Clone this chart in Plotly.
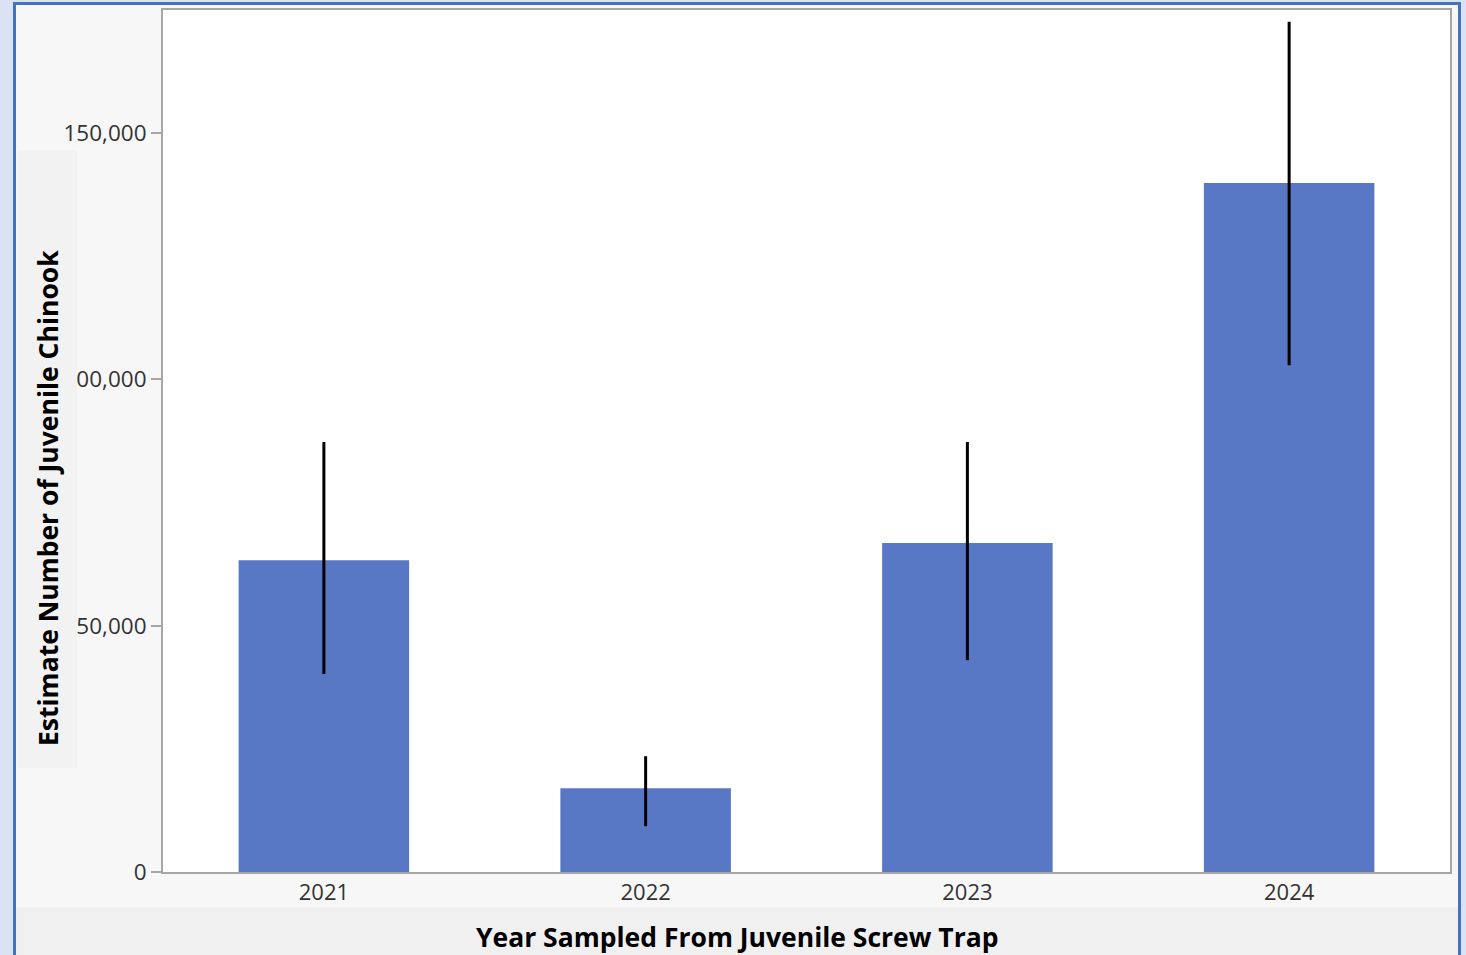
import plotly.graph_objects as go

years = ["2021", "2022", "2023", "2024"]
estimates = [63300, 17000, 66800, 139900]
upper_ci = [87300, 23500, 87300, 172600]
lower_ci = [40200, 9300, 43000, 102900]
y_tickvals = [0, 50000, 100000, 150000]
y_ticktext = ["0", "50,000", "100,000", "150,000"]

x_title = "Year Sampled From Juvenile Screw Trap"
y_title = "Estimate Number of Juvenile Chinook"

W, H = 1466, 955
PL, PR, PT, PB = 163, 1450, 10, 872


def px(x):
    return (x - PL) / (PR - PL)


def py(y):
    return (PB - y) / (PB - PT)


err_plus = [u - e for u, e in zip(upper_ci, estimates)]
err_minus = [e - l for e, l in zip(estimates, lower_ci)]

fig = go.Figure(
    go.Bar(
        x=years,
        y=estimates,
        marker=dict(color="#5877c4", line=dict(width=0)),
        width=0.53,
        error_y=dict(
            type="data",
            symmetric=False,
            array=err_plus,
            arrayminus=err_minus,
            color="#000000",
            thickness=3,
            width=0,
        ),
    )
)

shapes = [
    # outer frame
    dict(type="rect", xref="paper", yref="paper", layer="below",
         x0=px(14.5), x1=px(1459.5), y0=py(1000), y1=py(3.5),
         fillcolor="#f7f7f7", line=dict(color="#4472c4", width=3)),
    # bottom strip
    dict(type="rect", xref="paper", yref="paper", layer="below",
         x0=px(16), x1=px(1458), y0=py(1000), y1=py(907),
         fillcolor="#f0f0f0", line=dict(width=0)),
    # plot area
    dict(type="rect", xref="paper", yref="paper", layer="below",
         x0=0, x1=1, y0=0, y1=1,
         fillcolor="#ffffff", line=dict(width=0)),
    # y title box
    dict(type="rect", xref="paper", yref="paper", layer="above",
         x0=px(18), x1=px(77), y0=py(768), y1=py(150),
         fillcolor="#f2f2f2", line=dict(width=0)),
]

annotations = [
    dict(text=f"<b>{x_title}</b>", xref="paper", yref="paper",
         x=px(737), y=py(937), xanchor="center", yanchor="middle",
         showarrow=False, font=dict(size=26.5, color="#000000", family="Open Sans")),
    dict(text=f"<b>{y_title}</b>", xref="paper", yref="paper",
         x=px(48), y=py(498), xanchor="center", yanchor="middle", textangle=-90,
         showarrow=False, font=dict(size=26.5, color="#000000", family="Open Sans")),
]

fig.update_layout(
    width=W, height=H,
    margin=dict(l=PL, r=W - PR, t=PT, b=H - PB, autoexpand=False),
    paper_bgcolor="#dae3f3",
    plot_bgcolor="rgba(0,0,0,0)",
    showlegend=False,
    shapes=shapes,
    annotations=annotations,
    font=dict(family="Open Sans", color="#333333"),
    xaxis=dict(
        type="category",
        showline=True, mirror=True, linecolor="#a6a6a6", linewidth=2,
        ticks="", showgrid=False, zeroline=False,
        tickfont=dict(size=22, color="#333333"),
    ),
    yaxis=dict(
        range=[0, 175000],
        tickvals=y_tickvals, ticktext=y_ticktext,
        showline=True, mirror=True, linecolor="#a6a6a6", linewidth=2,
        ticks="outside", ticklen=10, tickwidth=1.5, tickcolor="#a6a6a6",
        showgrid=False, zeroline=False,
        tickfont=dict(size=22.5, color="#333333"),
    ),
)

fig.write_html(
    "out.html",
    config={"displayModeBar": False},
    post_script="document.body.style.margin='0';document.body.style.overflow='hidden';",
)
